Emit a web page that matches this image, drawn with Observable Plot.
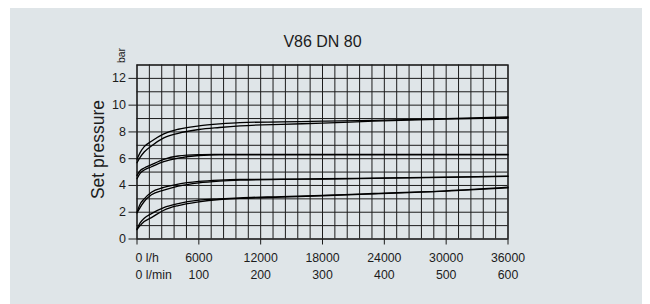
<!DOCTYPE html>
<html>
<head>
<meta charset="utf-8">
<script src="https://cdn.jsdelivr.net/npm/d3@7"></script>
<script src="https://cdn.jsdelivr.net/npm/@observablehq/plot@0.6"></script>
<style>
  html, body { margin: 0; padding: 0; background: #ffffff; }
  #wrap { position: relative; width: 650px; height: 304px; overflow: hidden; }
  #panel { position: absolute; left: 10px; top: 8px; width: 632px; height: 296px; background: #dfe5e8; }
  #chart { position: absolute; left: 0; top: 0; }
</style>
</head>
<body>
<div id="wrap"><div id="panel"></div><div id="chart"></div></div>
<script>
// Flow rate samples (l/h)
const flow = [0, 300, 700, 1400, 2600, 4000, 6000, 8000, 10000, 14000, 18000, 23000, 30000, 36000];
// Set pressure curves (bar), each band drawn as two lines
const p1Upper = [5.96, 6.45, 6.9, 7.3, 7.85, 8.2, 8.45, 8.6, 8.7, 8.75, 8.8, 8.87, 9.0, 9.12];
const p1Lower = [5.7, 6.1, 6.5, 6.95, 7.55, 7.9, 8.18, 8.33, 8.45, 8.57, 8.65, 8.8, 8.95, 9.06];
const p2Upper = [4.75, 5.1, 5.3, 5.55, 5.95, 6.2, 6.3, 6.32, 6.33, 6.33, 6.33, 6.33, 6.33, 6.33];
const p2Lower = [4.5, 4.9, 5.15, 5.4, 5.78, 6.05, 6.24, 6.28, 6.28, 6.28, 6.28, 6.28, 6.28, 6.28];
const p3Upper = [2.0, 2.6, 3.0, 3.5, 3.85, 4.1, 4.3, 4.4, 4.45, 4.47, 4.5, 4.55, 4.62, 4.7];
const p3Lower = [1.95, 2.35, 2.8, 3.3, 3.65, 3.95, 4.2, 4.33, 4.4, 4.45, 4.48, 4.53, 4.6, 4.68];
const p4Upper = [0.75, 1.2, 1.55, 1.9, 2.35, 2.65, 2.9, 3.0, 3.08, 3.17, 3.26, 3.4, 3.6, 3.87];
const p4Lower = [0.7, 1.0, 1.3, 1.6, 2.15, 2.5, 2.78, 2.95, 3.03, 3.13, 3.23, 3.37, 3.57, 3.82];

const seriesNames = ["p1Upper","p1Lower","p2Upper","p2Lower","p3Upper","p3Lower","p4Upper","p4Lower"];
const seriesValues = [p1Upper,p1Lower,p2Upper,p2Lower,p3Upper,p3Lower,p4Upper,p4Lower];

// Axis ticks and labels
const xTicks = [0, 6000, 12000, 18000, 24000, 30000, 36000];
const lhLabels = ["0 l/h", "6000", "12000", "18000", "24000", "30000", "36000"];
const lminLabels = ["0 l/min", "100", "200", "300", "400", "500", "600"];
const yTicks = [0, 2, 4, 6, 8, 10, 12];

const title = "V86 DN 80";
const yLabel = "Set pressure";
const unitLabel = "bar";

const rows = [];
seriesNames.forEach((name, i) => {
  flow.forEach((f, j) => rows.push({series: name, flow: f, p: seriesValues[i][j]}));
});

const firstTick = [{x: xTicks[0], lh: lhLabels[0], lmin: lminLabels[0]}];
const otherTicks = xTicks.slice(1).map((x, i) => ({x, lh: lhLabels[i + 1], lmin: lminLabels[i + 1]}));

const ink = "#1c1c1c";
const font = "Liberation Sans, Arial, sans-serif";

const chart = Plot.plot({
  width: 650,
  height: 304,
  marginLeft: 136.5,
  marginRight: 142.5,
  marginTop: 64.5,
  marginBottom: 65.5,
  style: {background: "transparent", fontFamily: font, color: ink},
  x: {domain: [0, 36000], axis: null},
  y: {domain: [0, 13], axis: null},
  marks: [
    Plot.gridX(d3.range(0, 36001, 1200), {stroke: ink, strokeOpacity: 1, strokeWidth: 1}),
    Plot.gridY(d3.range(0, 14, 1), {stroke: ink, strokeOpacity: 1, strokeWidth: 1}),
    Plot.frame({stroke: ink, strokeWidth: 1.2}),
    Plot.axisY(yTicks, {label: null, tickSize: 8, tickPadding: 3, fontSize: 12.5, stroke: ink, fill: ink}),
    Plot.axisX(xTicks, {label: null, tickSize: 6, text: null, stroke: ink}),
    Plot.text(firstTick, {x: "x", text: "lh", frameAnchor: "bottom", lineAnchor: "bottom", textAnchor: "start", dx: -1.5, dy: 22.5, fontSize: 12.3, fill: ink}),
    Plot.text(firstTick, {x: "x", text: "lmin", frameAnchor: "bottom", lineAnchor: "bottom", textAnchor: "start", dx: -1.5, dy: 39.5, fontSize: 12.3, fill: ink}),
    Plot.text(otherTicks, {x: "x", text: "lh", frameAnchor: "bottom", lineAnchor: "bottom", dy: 22.5, fontSize: 12.3, fill: ink}),
    Plot.text(otherTicks, {x: "x", text: "lmin", frameAnchor: "bottom", lineAnchor: "bottom", dy: 39.5, fontSize: 12.3, fill: ink}),
    Plot.line(rows, {x: "flow", y: "p", z: "series", stroke: "#000", strokeWidth: 1.3, curve: "monotone-x"}),
    Plot.text([title], {frameAnchor: "top", lineAnchor: "bottom", dy: -18.5, fontSize: 16, fill: ink}),
    Plot.text([yLabel], {frameAnchor: "left", rotate: -90, lineAnchor: "bottom", textAnchor: "middle", dx: -33.5, dy: -2.5, fontSize: 17.5, fill: ink}),
    Plot.text([unitLabel], {frameAnchor: "top-left", rotate: -90, lineAnchor: "bottom", textAnchor: "middle", dx: -12.5, dy: -9.5, fontSize: 10.5, fill: ink})
  ]
});
document.getElementById("chart").appendChild(chart);
</script>
</body>
</html>
